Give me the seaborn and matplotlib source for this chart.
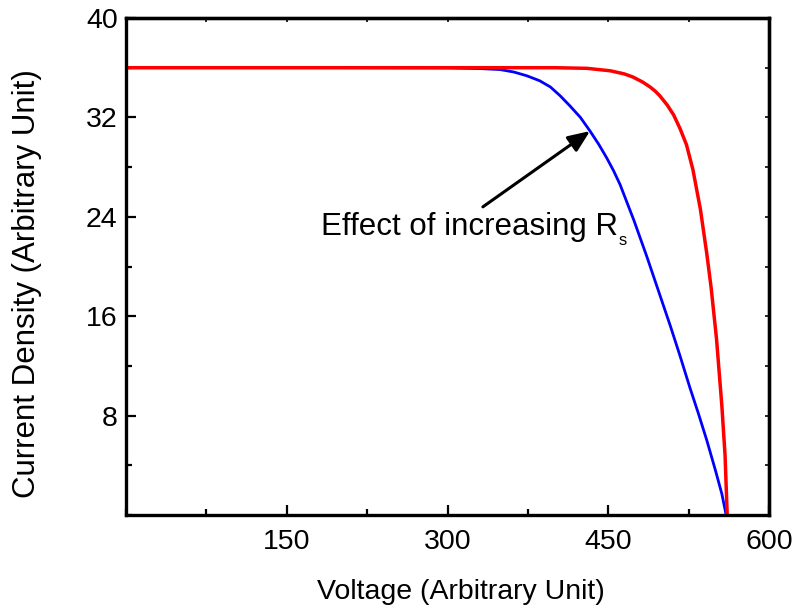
import matplotlib
matplotlib.use("Agg")
import matplotlib.pyplot as plt
import numpy as np
import pandas as pd
import seaborn as sns
from matplotlib.ticker import MultipleLocator

# %% data
v_red = [0, 100, 200, 300, 400, 430, 452, 465, 473, 482, 489, 494, 498, 505, 511, 517,
         523, 529, 536, 542, 546, 551, 556, 559, 561]
j_red = [36.0, 36.0, 36.0, 36.0, 36.0, 35.95, 35.75, 35.5, 35.25, 34.85, 34.45, 34.1, 33.75, 33.0, 32.2, 31.1,
         29.8, 27.8, 24.6, 21.0, 18.3, 14.2, 8.8, 4.8, 0.0]

v_blue = [0, 100, 200, 300, 330, 349, 362, 374, 386, 396, 405, 414, 424, 433, 441, 448.5,
          455, 461, 474, 486, 497, 508, 517, 526, 534, 542, 550, 556, 560]
j_blue = [36.0, 36.0, 36.0, 35.98, 35.93, 35.85, 35.65, 35.35, 34.95, 34.45, 33.75, 32.95, 32.0, 30.9, 29.85, 28.75,
          27.7, 26.6, 23.7, 20.8, 18.0, 15.2, 12.8, 10.3, 8.2, 6.0, 3.6, 1.7, 0.0]

x_ticks = [150, 300, 450, 600]
y_ticks = [8, 16, 24, 32, 40]

df_red = pd.DataFrame({"V": v_red, "J": j_red})
df_blue = pd.DataFrame({"V": v_blue, "J": j_blue})

# %% plot
sns.set_style("ticks")
plt.rcParams["font.family"] = ["Liberation Sans", "DejaVu Sans"]
plt.rcParams["text.color"] = "black"
plt.rcParams["axes.labelcolor"] = "black"

fig = plt.figure(figsize=(7.96, 6.12), dpi=100)
ax = fig.add_axes([126 / 796, 97 / 612, 643 / 796, 497 / 612])

sns.lineplot(data=df_blue, x="V", y="J", color="#0000FF", linewidth=2.0, ax=ax, sort=False)
sns.lineplot(data=df_red, x="V", y="J", color="#FF0000", linewidth=2.5, ax=ax, sort=False)

ax.set_xlim(0, 600)
ax.set_ylim(0, 40)
ax.set_xticks(x_ticks)
ax.set_yticks(y_ticks)
ax.xaxis.set_minor_locator(MultipleLocator(75))
ax.yaxis.set_minor_locator(MultipleLocator(4))
ax.tick_params(which="both", direction="in", width=1.6, labelsize=20.5, colors="black")
ax.tick_params(axis="x", pad=10)
ax.tick_params(axis="y", pad=6)
ax.tick_params(which="major", length=7)
ax.tick_params(which="minor", length=4)
for s in ax.spines.values():
    s.set_linewidth(2.4)
    s.set_color("black")
    s.set_visible(True)

# short inward ticks on the top and right frame
top = ax.secondary_xaxis("top")
top.set_xticks(x_ticks)
top.xaxis.set_minor_locator(MultipleLocator(75))
top.tick_params(which="both", direction="in", length=3, width=1.4, labeltop=False)
top.spines["top"].set_linewidth(2.4)
right = ax.secondary_yaxis("right")
right.set_yticks(y_ticks)
right.yaxis.set_minor_locator(MultipleLocator(4))
right.tick_params(which="both", direction="in", length=3, width=1.4, labelright=False)
right.spines["right"].set_linewidth(2.4)

ax.set_xlabel("Voltage (Arbitrary Unit)", fontsize=20.5)
ax.set_ylabel("Current Density (Arbitrary Unit)", fontsize=22.5)
ax.xaxis.set_label_coords(0.521, -0.129)
ax.yaxis.set_label_coords(-0.131, 0.466)

ax.annotate("", xy=(433, 30.9), xytext=(333, 24.8),
            arrowprops=dict(arrowstyle="-|>,head_length=0.6,head_width=0.25",
                            color="black", lw=2.2, mutation_scale=22, shrinkA=0, shrinkB=0))
txt = ax.text(182, 22.5, "Effect of increasing R", fontsize=22.5,
              ha="left", va="baseline", color="black")

# lowered small subscript placed after the main text
fig.canvas.draw()
bb = txt.get_window_extent()
base_y = ax.transData.transform((182, 22.5))[1]
ax.annotate("s", xy=(bb.x1, base_y), xycoords="figure pixels",
            xytext=(1, -10), textcoords="offset pixels",
            fontsize=12, ha="left", va="baseline", color="black")

fig.savefig("out.png", dpi=100)
